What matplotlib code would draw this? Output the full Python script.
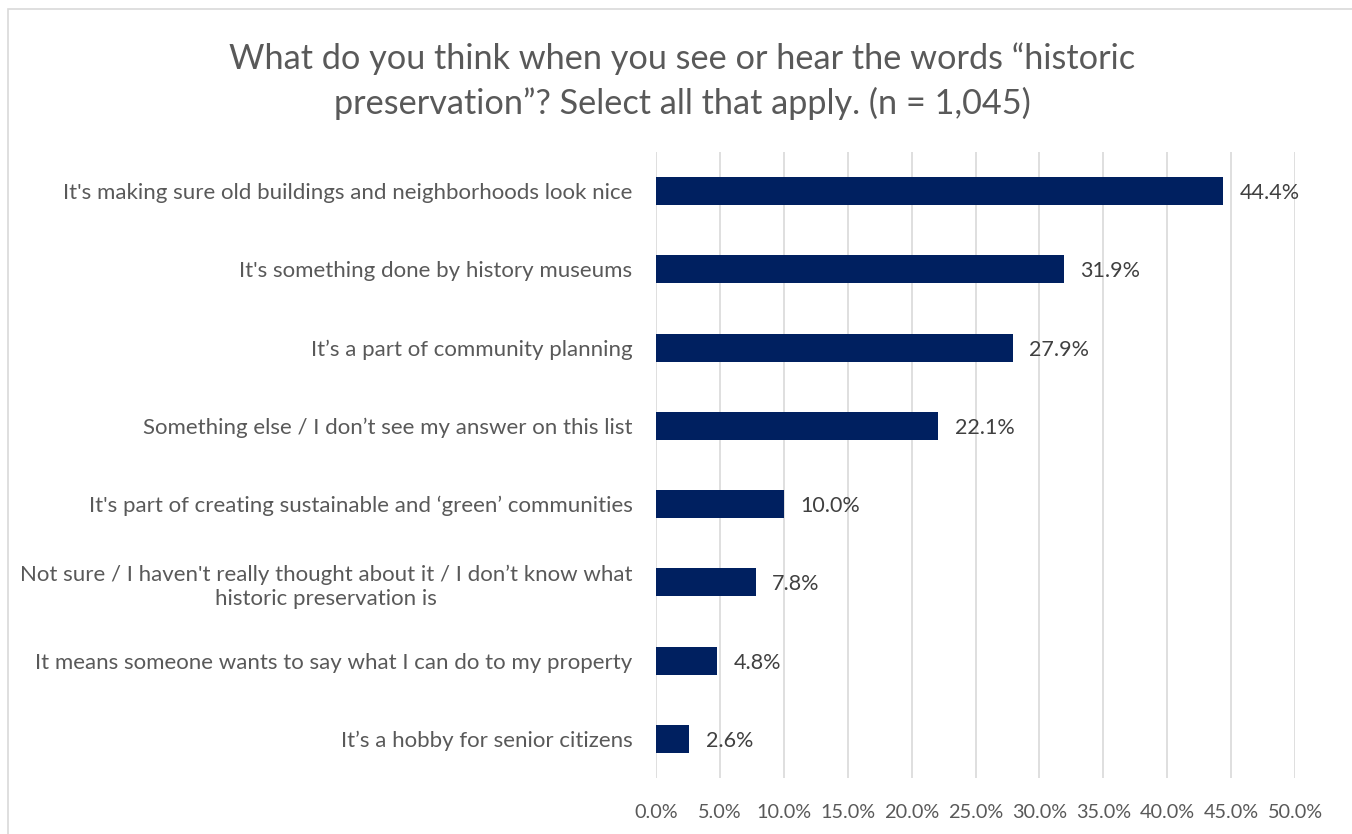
import matplotlib
matplotlib.use("Agg")
import matplotlib.pyplot as plt
from matplotlib.patches import Rectangle

plt.rcParams['font.family'] = ['Lato', 'DejaVu Sans']

categories = [
    "It's making sure old buildings and neighborhoods look nice",
    "It's something done by history museums",
    "It\u2019s a part of community planning",
    "Something else / I don\u2019t see my answer on this list",
    "It's part of creating sustainable and \u2018green\u2019 communities",
    "Not sure / I haven't really thought about it / I don\u2019t know what\nhistoric preservation is",
    "It means someone wants to say what I can do to my property",
    "It\u2019s a hobby for senior citizens",
]
values = [44.4, 31.9, 27.9, 22.1, 10.0, 7.8, 4.8, 2.6]
xticks = [0, 5, 10, 15, 20, 25, 30, 35, 40, 45, 50]
title = "What do you think when you see or hear the words \u201chistoric\npreservation\u201d? Select all that apply. (n = 1,045)"

W, H = 1352, 834
fig = plt.figure(figsize=(W / 100, H / 100), dpi=100)
text_color = "#595959"
bar_color = "#002060"

# chart frame
fig.patches.append(Rectangle((8 / W, -0.01), 1.02, 1 - 9 / H + 0.01, transform=fig.transFigure,
                             fill=False, edgecolor="#D9D9D9", linewidth=1.2))

ax = fig.add_axes([656 / W, 1 - 778 / H, (1295 - 656) / W, (778 - 152) / H])
ypos = list(range(len(categories)))
ax.barh(ypos, values, height=0.36, color=bar_color, zorder=3)
ax.set_ylim(len(categories) - 0.5, -0.5)
ax.set_xlim(0, 50)
ax.set_xticks(xticks)
ax.set_xticklabels([f"{t:.1f}%" for t in xticks], fontsize=14.3, color=text_color)
ax.set_yticks(ypos)
ax.set_yticklabels(categories, fontsize=16, color=text_color, multialignment="center",
                   linespacing=1.25)
for lbl in ax.get_yticklabels():
    lbl.set_y(lbl.get_position()[1])
    lbl.set_va("center_baseline")
ax.tick_params(axis="both", length=0)
ax.tick_params(axis="x", pad=19)
ax.tick_params(axis="y", pad=17)
ax.grid(axis="x", color="#D9D9D9", linewidth=1.2, zorder=0)
for s in ax.spines.values():
    s.set_visible(False)

for y, v in zip(ypos, values):
    ax.annotate(f"{v:.1f}%", (v, y), xytext=(12, 0), textcoords="offset points",
                va="center_baseline", ha="left", fontsize=15.5, color="#404040")

fig.text(682 / W, 1 - 81 / H, title, ha="center", va="center", fontsize=24.7,
         color=text_color, linespacing=1.45)

fig.savefig("out.png", dpi=100, facecolor="white")
